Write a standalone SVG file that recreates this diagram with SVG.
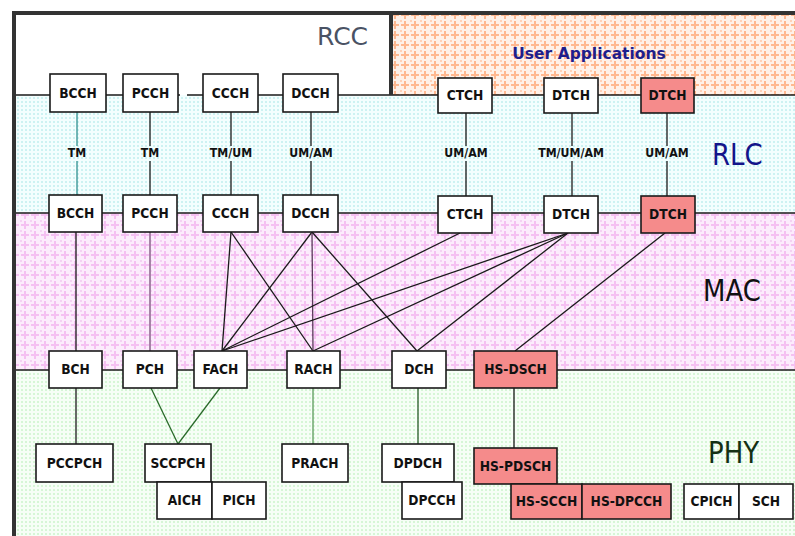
<svg xmlns="http://www.w3.org/2000/svg" width="795" height="536" viewBox="0 0 795 536">
<defs>
<pattern id="pOr" width="10" height="10" patternUnits="userSpaceOnUse">
<rect width="10" height="10" fill="#fff1e8"/>
<rect x="4" y="1" width="2" height="8" fill="#ffb890"/>
<rect x="1" y="4" width="8" height="2" fill="#ffb890"/>
<rect x="0" y="0" width="2" height="2" fill="#ffd2b8"/>
</pattern>
<pattern id="pPk" width="10" height="10" patternUnits="userSpaceOnUse">
<rect width="10" height="10" fill="#fcecfc"/>
<rect x="4" y="1" width="2" height="8" fill="#f5c0f2"/>
<rect x="1" y="4" width="8" height="2" fill="#f5c0f2"/>
<rect x="0" y="0" width="2" height="2" fill="#f5d2f4"/>
</pattern>
<pattern id="pCy" width="4" height="4" patternUnits="userSpaceOnUse">
<rect width="4" height="4" fill="#f3fefe"/>
<rect x="1" y="1" width="2" height="2" fill="#cdf2f2"/>
</pattern>
<pattern id="pGr" width="4" height="4" patternUnits="userSpaceOnUse">
<rect width="4" height="4" fill="#f6fef6"/>
<rect x="1" y="1" width="2" height="2" fill="#d6f6d6"/>
</pattern>
</defs>
<style>
.box{fill:#ffffff;stroke:#1a1a1a;stroke-width:1.6}
.red{fill:#f58b8b;stroke:#1a1a1a;stroke-width:1.6}
.t{font-family:"DejaVu Sans",Verdana,sans-serif;font-weight:bold;font-size:12.3px;text-anchor:middle;dominant-baseline:central;fill:#111;transform:scaleY(1.15);transform-box:fill-box;transform-origin:center}
.m{font-family:"DejaVu Sans",Verdana,sans-serif;font-weight:bold;font-size:11px;text-anchor:middle;dominant-baseline:central;fill:#111;transform:scaleY(1.12);transform-box:fill-box;transform-origin:center}
.layer{font-family:"DejaVu Sans",Verdana,sans-serif;font-size:26px;transform:scaleY(1.15);transform-box:fill-box;transform-origin:center}
.c{stroke:#1a1a1a;stroke-width:1.3;fill:none}
.hl{stroke:#1a1a1a;stroke-width:1.4}
.frame{stroke:#333;stroke-width:4}
</style>
<rect width="795" height="536" fill="#ffffff"/>
<g id="bands">
<rect x="14" y="13" width="377" height="82" fill="#ffffff"/>
<rect x="391" y="13" width="404" height="82" fill="url(#pOr)"/>
<rect x="14" y="95" width="781" height="118" fill="url(#pCy)"/>
<rect x="14" y="213" width="781" height="157" fill="url(#pPk)"/>
<rect x="14" y="370" width="781" height="166" fill="url(#pGr)"/>
<line class="hl" x1="14" y1="95" x2="180" y2="95"/>
<line class="hl" x1="187" y1="95" x2="795" y2="95"/>
<line class="hl" x1="14" y1="213" x2="795" y2="213"/>
<line class="hl" x1="14" y1="370" x2="795" y2="370"/>
<line class="frame" x1="12" y1="13" x2="795" y2="13"/>
<line class="frame" x1="14" y1="11" x2="14" y2="536"/>
<line class="frame" x1="391" y1="11" x2="391" y2="95"/>
<text x="317" y="45" style="font-family:'DejaVu Sans',Verdana,sans-serif;font-size:25px;fill:#4a5264">RCC</text>
<text x="589" y="59" style="font-family:'DejaVu Sans',Verdana,sans-serif;font-size:15.5px;font-weight:bold;fill:#1e1e8c;text-anchor:middle">User Applications</text>
<text class="layer" x="712" y="164" style="fill:#14148a">RLC</text>
<text class="layer" x="703" y="300" style="fill:#111">MAC</text>
<text class="layer" x="708" y="462" style="fill:#143014">PHY</text>
</g>
<g id="connectors">
<line class="c" x1="77" y1="112" x2="77" y2="146" style="stroke:#2f8f8f"/>
<line class="c" x1="77" y1="161" x2="77" y2="195" style="stroke:#2f8f8f"/>
<line class="c" x1="150" y1="112" x2="150" y2="146"/>
<line class="c" x1="150" y1="161" x2="150" y2="195"/>
<line class="c" x1="231" y1="112" x2="231" y2="146"/>
<line class="c" x1="231" y1="161" x2="231" y2="195"/>
<line class="c" x1="311" y1="112" x2="311" y2="146"/>
<line class="c" x1="311" y1="161" x2="311" y2="195"/>
<line class="c" x1="466" y1="113" x2="466" y2="146"/>
<line class="c" x1="466" y1="161" x2="466" y2="196"/>
<line class="c" x1="572" y1="113" x2="572" y2="146"/>
<line class="c" x1="572" y1="161" x2="572" y2="196"/>
<line class="c" x1="667" y1="113" x2="667" y2="146"/>
<line class="c" x1="667" y1="161" x2="667" y2="196"/>
<text class="m" x="77" y="153">TM</text>
<text class="m" x="150" y="153">TM</text>
<text class="m" x="231" y="153">TM/UM</text>
<text class="m" x="311" y="153">UM/AM</text>
<text class="m" x="466" y="153">UM/AM</text>
<text class="m" x="571" y="153">TM/UM/AM</text>
<text class="m" x="667" y="153">UM/AM</text>
<line class="c" x1="76" y1="232" x2="76" y2="351"/>
<line class="c" x1="150" y1="232" x2="150" y2="351" style="stroke:#a683a6;stroke-width:2"/>
<line class="c" x1="231" y1="232" x2="222" y2="351"/>
<line class="c" x1="231" y1="232" x2="313" y2="351"/>
<line class="c" x1="312" y1="232" x2="222" y2="351"/>
<line class="c" x1="312" y1="232" x2="313" y2="351" style="stroke:#5a3a5a"/>
<line class="c" x1="312" y1="232" x2="417" y2="351"/>
<line class="c" x1="460" y1="233" x2="222" y2="351"/>
<line class="c" x1="568" y1="233" x2="222" y2="351"/>
<line class="c" x1="568" y1="233" x2="313" y2="351"/>
<line class="c" x1="568" y1="233" x2="417" y2="351"/>
<line class="c" x1="665" y1="233" x2="515" y2="351"/>
<line class="c" x1="76" y1="388" x2="76" y2="444"/>
<line class="c" x1="151" y1="388" x2="178" y2="444" style="stroke:#2a6a2a"/>
<line class="c" x1="220" y1="388" x2="178" y2="444" style="stroke:#2a6a2a"/>
<line class="c" x1="313" y1="388" x2="313" y2="444" style="stroke:#5a9a5a"/>
<line class="c" x1="418" y1="388" x2="418" y2="444" style="stroke:#2a5a2a"/>
<line class="c" x1="514" y1="388" x2="514" y2="448"/>
</g>
<g id="n-bcch-rlc"><rect class="box" x="50" y="74" width="56" height="38"/><text class="t" x="78" y="93">BCCH</text></g>
<g id="n-pcch-rlc"><rect class="box" x="123" y="74" width="55" height="38"/><text class="t" x="150.5" y="93">PCCH</text></g>
<g id="n-ccch-rlc"><rect class="box" x="203" y="74" width="55" height="38"/><text class="t" x="230.5" y="93">CCCH</text></g>
<g id="n-dcch-rlc"><rect class="box" x="283" y="74" width="55" height="38"/><text class="t" x="310.5" y="93">DCCH</text></g>
<g id="n-ctch-rlc"><rect class="box" x="438" y="78" width="54" height="35"/><text class="t" x="465" y="95.5">CTCH</text></g>
<g id="n-dtch-rlc"><rect class="box" x="544" y="78" width="54" height="35"/><text class="t" x="571" y="95.5">DTCH</text></g>
<g id="n-dtch2-rlc"><rect class="red" x="641" y="78" width="53" height="35"/><text class="t" x="667.5" y="95.5">DTCH</text></g>
<g id="n-bcch-mac"><rect class="box" x="49" y="195" width="53" height="37"/><text class="t" x="75.5" y="213.5">BCCH</text></g>
<g id="n-pcch-mac"><rect class="box" x="123" y="195" width="54" height="37"/><text class="t" x="150" y="213.5">PCCH</text></g>
<g id="n-ccch-mac"><rect class="box" x="203" y="195" width="55" height="37"/><text class="t" x="230.5" y="213.5">CCCH</text></g>
<g id="n-dcch-mac"><rect class="box" x="283" y="195" width="55" height="37"/><text class="t" x="310.5" y="213.5">DCCH</text></g>
<g id="n-ctch-mac"><rect class="box" x="438" y="196" width="54" height="37"/><text class="t" x="465" y="214.5">CTCH</text></g>
<g id="n-dtch-mac"><rect class="box" x="544" y="196" width="54" height="37"/><text class="t" x="571" y="214.5">DTCH</text></g>
<g id="n-dtch2-mac"><rect class="red" x="641" y="196" width="54" height="37"/><text class="t" x="668" y="214.5">DTCH</text></g>
<g id="n-bch"><rect class="box" x="49" y="351" width="53" height="37"/><text class="t" x="75.5" y="369.5">BCH</text></g>
<g id="n-pch"><rect class="box" x="123" y="351" width="54" height="37"/><text class="t" x="150" y="369.5">PCH</text></g>
<g id="n-fach"><rect class="box" x="194" y="351" width="53" height="37"/><text class="t" x="220.5" y="369.5">FACH</text></g>
<g id="n-rach"><rect class="box" x="287" y="351" width="53" height="37"/><text class="t" x="313.5" y="369.5">RACH</text></g>
<g id="n-dch"><rect class="box" x="392" y="351" width="54" height="37"/><text class="t" x="419" y="369.5">DCH</text></g>
<g id="n-hsdsch"><rect class="red" x="474" y="351" width="83" height="37"/><text class="t" x="515.5" y="369.5">HS-DSCH</text></g>
<g id="n-pccpch"><rect class="box" x="36" y="444" width="77" height="38"/><text class="t" x="74.5" y="463">PCCPCH</text></g>
<g id="n-sccpch"><rect class="box" x="145" y="444" width="66" height="38"/><text class="t" x="178" y="463">SCCPCH</text></g>
<g id="n-aich"><rect class="box" x="157" y="482" width="55" height="37"/><text class="t" x="184.5" y="500.5">AICH</text></g>
<g id="n-pich"><rect class="box" x="212" y="482" width="54" height="37"/><text class="t" x="239" y="500.5">PICH</text></g>
<g id="n-prach"><rect class="box" x="282" y="444" width="66" height="38"/><text class="t" x="315" y="463">PRACH</text></g>
<g id="n-dpdch"><rect class="box" x="382" y="444" width="72" height="38"/><text class="t" x="418" y="463">DPDCH</text></g>
<g id="n-dpcch"><rect class="box" x="402" y="482" width="60" height="37"/><text class="t" x="432" y="500.5">DPCCH</text></g>
<g id="n-hspdsch"><rect class="red" x="474" y="448" width="83" height="36"/><text class="t" x="515.5" y="466">HS-PDSCH</text></g>
<g id="n-hsscch"><rect class="red" x="511" y="484" width="71" height="35"/><text class="t" x="546.5" y="501.5">HS-SCCH</text></g>
<g id="n-hsdpcch"><rect class="red" x="582" y="484" width="89" height="35"/><text class="t" x="626.5" y="501.5">HS-DPCCH</text></g>
<g id="n-cpich"><rect class="box" x="684" y="484" width="55" height="35"/><text class="t" x="711.5" y="501.5">CPICH</text></g>
<g id="n-sch"><rect class="box" x="739" y="484" width="54" height="35"/><text class="t" x="766" y="501.5">SCH</text></g>
</svg>
